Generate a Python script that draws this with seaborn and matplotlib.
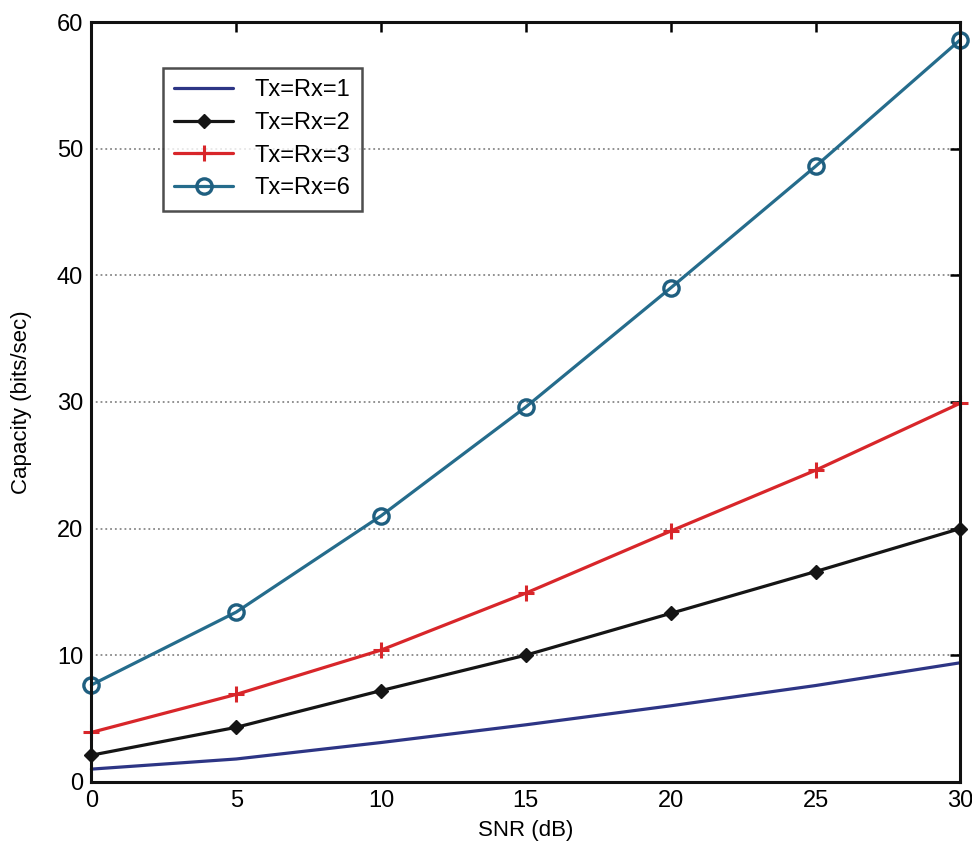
import matplotlib
matplotlib.use("Agg")
import matplotlib.pyplot as plt
import seaborn as sns
import pandas as pd

snr_db = [0, 5, 10, 15, 20, 25, 30]
cap_1 = [1.0, 1.8, 3.1, 4.5, 6.0, 7.6, 9.4]
cap_2 = [2.1, 4.3, 7.2, 10.0, 13.3, 16.6, 20.0]
cap_3 = [3.9, 6.9, 10.4, 14.9, 19.8, 24.6, 29.9]
cap_6 = [7.65, 13.4, 21.0, 29.6, 39.0, 48.6, 58.6]
labels = ["Tx=Rx=1", "Tx=Rx=2", "Tx=Rx=3", "Tx=Rx=6"]
x_ticks = [0, 5, 10, 15, 20, 25, 30]
y_ticks = [0, 10, 20, 30, 40, 50, 60]

sns.set_style("white")
plt.rcParams['font.family'] = ['Liberation Sans', 'DejaVu Sans']
plt.rcParams['text.color'] = 'black'
plt.rcParams['axes.labelcolor'] = 'black'
plt.rcParams['xtick.color'] = 'black'
plt.rcParams['ytick.color'] = 'black'

fig = plt.figure(figsize=(9.72, 8.47), dpi=100)
ax = fig.add_axes([0.094, 0.077, 0.894, 0.897])

styles = [
    dict(color="#2d3585"),
    dict(color="#151515", marker="D", markersize=7, markerfacecolor="#151515",
         markeredgecolor="#151515", markeredgewidth=1),
    dict(color="#d8262a", marker="+", markersize=12, markeredgewidth=2.2,
         markeredgecolor="#d8262a"),
    dict(color="#256c8c", marker="o", markersize=11, markerfacecolor="none",
         markeredgewidth=2.4, markeredgecolor="#1f5f80"),
]
for vals, lab, st in zip([cap_1, cap_2, cap_3, cap_6], labels, styles):
    df = pd.DataFrame({"SNR": snr_db, "Cap": vals})
    sns.lineplot(data=df, x="SNR", y="Cap", ax=ax, label=lab, linewidth=2.3,
                 clip_on=False, **st)

ax.set_xlim(0, 30)
ax.set_ylim(0, 60)
ax.set_xticks(x_ticks)
ax.set_yticks(y_ticks)
ax.yaxis.grid(True, linestyle=":", color="#888888", linewidth=1.3)
ax.xaxis.grid(False)
ax.tick_params(direction="in", length=7, width=1.8, top=True, right=True, labelsize=17, pad=6)
for s in ax.spines.values():
    s.set_linewidth(2.2)
    s.set_color("#111111")
ax.set_xlabel("SNR (dB)", fontsize=16, labelpad=6)
ax.set_ylabel("Capacity (bits/sec)", fontsize=16, labelpad=18)

leg = ax.legend(loc="upper left", bbox_to_anchor=(0.082, 0.94), fontsize=17, frameon=True,
                fancybox=False, edgecolor="#222222", handlelength=2.5, borderpad=0.5,
                labelspacing=0.45, handletextpad=0.9, borderaxespad=0)
leg.get_frame().set_linewidth(1.8)

fig.savefig("out.png", dpi=100)
